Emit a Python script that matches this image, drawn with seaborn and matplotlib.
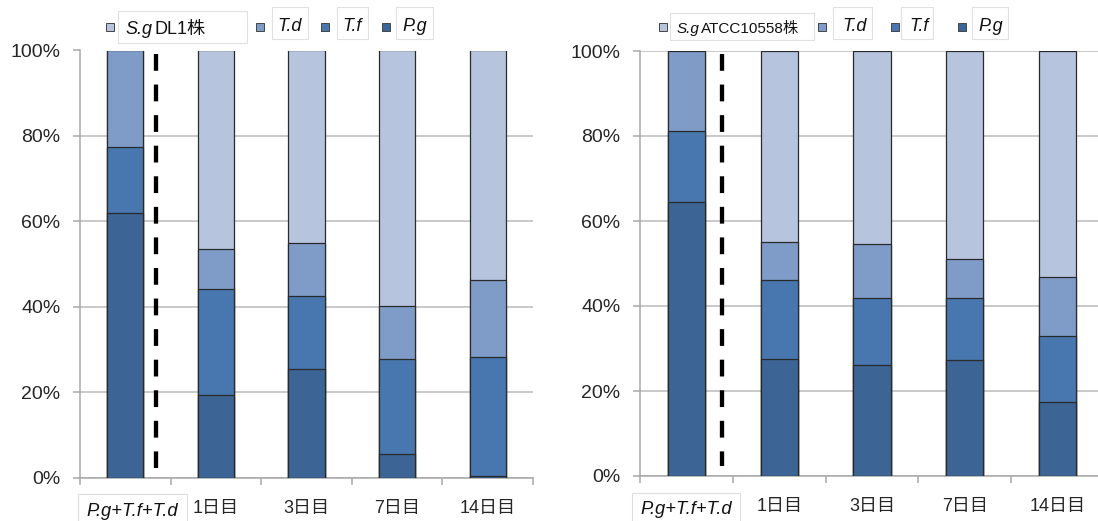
import numpy as np
import pandas as pd
import seaborn as sns
import matplotlib.pyplot as plt
import matplotlib.transforms as mtransforms
from matplotlib.patches import Rectangle

sns.set_theme(style="white")
plt.rcParams["font.family"] = ["Liberation Sans", "Noto Sans CJK JP", "DejaVu Sans"]

# data (% of total)
categories = ["P.g+T.f+T.d", "1日目", "3日目", "7日目", "14日目"]
species = ["S.g", "T.d", "T.f", "P.g"]

dl1_pg = [62.0, 19.3, 25.5, 5.5, 0.3]
dl1_tf = [15.5, 24.8, 16.9, 22.2, 28.0]
dl1_td = [22.5, 9.3, 12.6, 12.4, 18.0]
dl1_sg = [0.0, 46.6, 45.0, 59.9, 53.7]

atcc_pg = [64.4, 27.5, 26.1, 27.2, 17.5]
atcc_tf = [16.8, 18.7, 15.9, 14.6, 15.5]
atcc_td = [18.8, 8.8, 12.6, 9.2, 13.9]
atcc_sg = [0.0, 45.0, 45.4, 49.0, 53.1]

colors = {"P.g": "#3C6495", "T.f": "#4877B0", "T.d": "#7F9CC8", "S.g": "#B6C4DE"}
W, H = 1098, 521


def stacked(ax, pg, tf, td, sg):
    df = pd.DataFrame({"cat": categories, "P.g": pg, "T.f": tf, "T.d": td, "S.g": sg})
    # cumulative tops, drawn from the top layer down
    df["top_pg"] = df["P.g"]
    df["top_tf"] = df["top_pg"] + df["T.f"]
    df["top_td"] = df["top_tf"] + df["T.d"]
    df["top_sg"] = df["top_td"] + df["S.g"]
    for col, name in [("top_sg", "S.g"), ("top_td", "T.d"), ("top_tf", "T.f"), ("top_pg", "P.g")]:
        sns.barplot(data=df, x="cat", y=col, order=categories, color=colors[name],
                    saturation=1, width=0.4, errorbar=None, edgecolor="#2a2a2a",
                    linewidth=0.9, ax=ax, zorder=3)


def style_axis(ax, dash_x, dash_top, first_x):
    ax.set_ylim(0, 100)
    ax.set_xlim(-0.5, len(categories) - 0.5)
    ax.set_yticks(np.arange(0, 101, 20))
    ax.set_yticklabels([f"{v}%" for v in range(0, 101, 20)], fontsize=14)
    ax.set_xlabel("")
    ax.set_ylabel("")
    ax.yaxis.grid(True, color="#BBBBBB", linewidth=1.1, zorder=0)
    ax.set_axisbelow(True)
    for s in ["top", "right"]:
        ax.spines[s].set_visible(False)
    for s in ["left", "bottom"]:
        ax.spines[s].set_color("#A8A8A8")
        ax.spines[s].set_linewidth(1.1)
    ax.tick_params(axis="y", length=5, width=1.1, color="#A8A8A8", pad=9, left=True)
    ax.set_xticks(np.arange(-0.5, len(categories)), minor=True)
    ax.tick_params(axis="x", which="minor", length=5, width=1.1, color="#A8A8A8", bottom=True)
    ax.set_xticks(range(len(categories)))
    ax.set_xticklabels([""] + categories[1:])
    ax.tick_params(axis="x", which="major", length=0, pad=16, labelsize=13)
    # first category label sits in its own white text box
    trans = mtransforms.blended_transform_factory(ax.transData, ax.transAxes)
    ax.text(first_x, -0.089, categories[0], transform=trans, ha="center", va="baseline",
            fontsize=13.2, fontstyle="italic", color="#111111", clip_on=False,
            bbox=dict(facecolor="white", edgecolor="#DDDDDD", linewidth=0.8, pad=6))
    ax.plot([dash_x, dash_x], [dash_top, 2.3], color="black", linewidth=3.1,
            linestyle=(0, (3.9, 3.2)), zorder=4)


def legend(fig, items):
    # items: (name, marker x, box (x0, y0, x1, y1), [(text, x, italic, size)], baseline y)
    for name, mx, box, texts, base in items:
        fig.add_artist(Rectangle((mx / W, 1 - 31 / H), 8 / W, 8 / H, transform=fig.transFigure,
                                 facecolor=colors[name], edgecolor="#444444", linewidth=0.7))
        x0, y0, x1, y1 = box
        fig.add_artist(Rectangle((x0 / W, 1 - y1 / H), (x1 - x0) / W, (y1 - y0) / H,
                                 transform=fig.transFigure, facecolor="white",
                                 edgecolor="#E0E0E0", linewidth=0.8))
        for txt, tx, it, size in texts:
            fig.text(tx / W, 1 - base / H, txt, fontsize=size, va="baseline", ha="left",
                     fontstyle="italic" if it else "normal", color="#111111")


fig = plt.figure(figsize=(10.98, 5.21), dpi=100)
ax1 = fig.add_axes([80 / W, 1 - 477.5 / H, 453 / W, 427 / H])
ax2 = fig.add_axes([640 / W, 1 - 476 / H, 464 / W, 425 / H])

stacked(ax1, dl1_pg, dl1_tf, dl1_td, dl1_sg)
stacked(ax2, atcc_pg, atcc_tf, atcc_td, atcc_sg)
style_axis(ax1, 0.34, 99.2, 0.08)
style_axis(ax2, 0.38, 99.4, 0.0)

legend(fig, [
    ("S.g", 106, (118, 11, 247, 43), [("S.g", 125, True, 13), ("DL1株", 154, False, 13)], 34),
    ("T.d", 256, (272, 7, 308, 39), [("T.d", 277, True, 13)], 31),
    ("T.f", 321, (337, 7, 368, 39), [("T.f", 342, True, 13)], 31),
    ("P.g", 382, (396, 7, 433, 39), [("P.g", 402, True, 13)], 31),
])
legend(fig, [
    ("S.g", 659, (670, 13, 814, 40), [("S.g", 677, True, 11), ("ATCC10558株", 701, False, 11)], 33),
    ("T.d", 818, (833, 7, 872, 39), [("T.d", 842, True, 13)], 31),
    ("T.f", 891, (901, 7, 933, 39), [("T.f", 909, True, 13)], 31),
    ("P.g", 958, (972, 7, 1008, 39), [("P.g", 978, True, 13)], 31),
])

plt.savefig("out.png", dpi=100)
